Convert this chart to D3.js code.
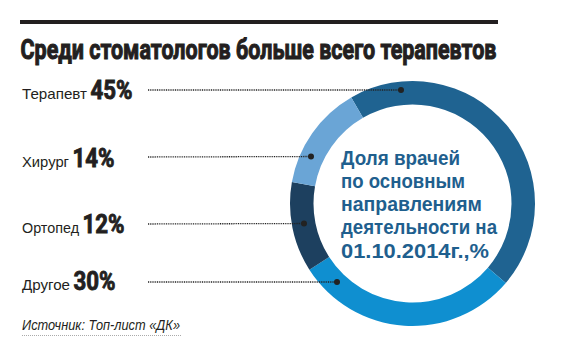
<!DOCTYPE html>
<html><head><meta charset="utf-8">
<script src="https://cdn.jsdelivr.net/npm/d3@7"></script>
<style>body{margin:0;background:#fff}svg{display:block}</style>
</head><body>
<svg id="c" width="575" height="356"></svg>
<script>
const categories = ["Терапевт", "Другое", "Ортопед", "Хирург"];
const shares = [45, 30, 12, 14];
const valueLabels = ["45%", "30%", "12%", "14%"];
const colors = ["#1f6391", "#0f8fd0", "#1d405f", "#6aa5d6"];
const titleText = "Среди стоматологов больше всего терапевтов";
const centerLines = ["Доля врачей", "по основным", "направлениям", "деятельности на", "01.10.2014г.,%"];
const sourceText = "Источник: Топ-лист «ДК»";

// layout (positions, not data)
const layout = {
  cx: 412.5, cy: 203.5, rOuter: 122.5, rInner: 99,
  startDeg: -30,
  labelBaseline: {"Терапевт": 99, "Хирург": 167, "Ортопед": 233, "Другое": 290},
  lineY: {"Терапевт": 90, "Хирург": 157, "Ортопед": 224, "Другое": 282},
  dot: {"Терапевт": [401, 90], "Хирург": [311, 156.5], "Ортопед": [304, 223.5], "Другое": [337, 282]},
  labelWidth: {"Терапевт": 65, "Хирург": 47, "Ортопед": 57, "Другое": 48},
  centerWidths: [119, 124, 141, 156, 148],
  lineX0: 148
};

const svg = d3.select("#c");

// title rule
svg.append("rect").attr("x", 20).attr("y", 20).attr("width", 478).attr("height", 4).attr("fill", "#231f20");
svg.append("text").attr("transform", "translate(20.5,58.5) scale(1,1.32)")
  .attr("font-family", "'Liberation Sans Narrow','Roboto','Liberation Sans',sans-serif")
  .attr("font-weight", "bold").attr("font-size", 21).attr("fill", "#231f20")
  .attr("stroke", "#231f20").attr("stroke-width", 0.8)
  .attr("textLength", 476).attr("lengthAdjust", "spacingAndGlyphs")
  .text(titleText);

// donut
const pie = d3.pie().sort(null).value(d => d)
  .startAngle(layout.startDeg * Math.PI / 180)
  .endAngle((layout.startDeg + 360) * Math.PI / 180);
const arc = d3.arc().innerRadius(layout.rInner).outerRadius(layout.rOuter);
const g = svg.append("g").attr("transform", `translate(${layout.cx},${layout.cy})`);
g.selectAll("path").data(pie(shares)).join("path")
  .attr("d", arc).attr("fill", (d, i) => colors[i]);

// center text
centerLines.forEach((t, i) => {
  svg.append("text").attr("x", 341).attr("y", 164.5 + i * 23.3).attr("fill", "#1f5f8e")
    .attr("font-family", "'Liberation Sans',Arial,sans-serif").attr("font-weight", "bold").attr("font-size", 20)
    .attr("textLength", layout.centerWidths[i]).attr("lengthAdjust", "spacingAndGlyphs")
    .text(t);
});

// labels and leaders
categories.forEach((c, i) => {
  const by = layout.labelBaseline[c];
  const lw = layout.labelWidth[c];
  svg.append("text").attr("x", 22).attr("y", by)
    .attr("font-family", "'Liberation Sans',Arial,sans-serif").attr("font-size", 14.5).attr("fill", "#231f20")
    .attr("textLength", lw).attr("lengthAdjust", "spacingAndGlyphs").text(c);
  svg.append("text").attr("x", 22 + lw + 3.5).attr("y", by)
    .attr("font-family", "'Liberation Sans Narrow','Roboto','Liberation Sans',sans-serif")
    .attr("font-weight", "bold").attr("font-size", 26).attr("fill", "#231f20")
    .attr("stroke", "#231f20").attr("stroke-width", 0.9)
    .attr("textLength", 42).attr("lengthAdjust", "spacingAndGlyphs").text(valueLabels[i]);
  const [dx, dy] = layout.dot[c];
  svg.append("line").attr("x1", layout.lineX0).attr("y1", layout.lineY[c]).attr("x2", dx).attr("y2", dy)
    .attr("stroke", "#222").attr("stroke-width", 1.3).attr("stroke-dasharray", "1,0.8");
  svg.append("circle").attr("cx", dx).attr("cy", dy).attr("r", 3).attr("fill", "#222");
});

// source
svg.append("text").attr("x", 22).attr("y", 330)
  .attr("font-family", "'Liberation Sans',Arial,sans-serif").attr("font-style", "italic")
  .attr("font-size", 14).attr("fill", "#231f20")
  .attr("textLength", 158).attr("lengthAdjust", "spacingAndGlyphs").text(sourceText);
svg.append("line").attr("x1", 22).attr("y1", 335.5).attr("x2", 181).attr("y2", 335.5)
  .attr("stroke", "#aaa").attr("stroke-width", 1).attr("stroke-dasharray", "1,1");
</script>
</body></html>
